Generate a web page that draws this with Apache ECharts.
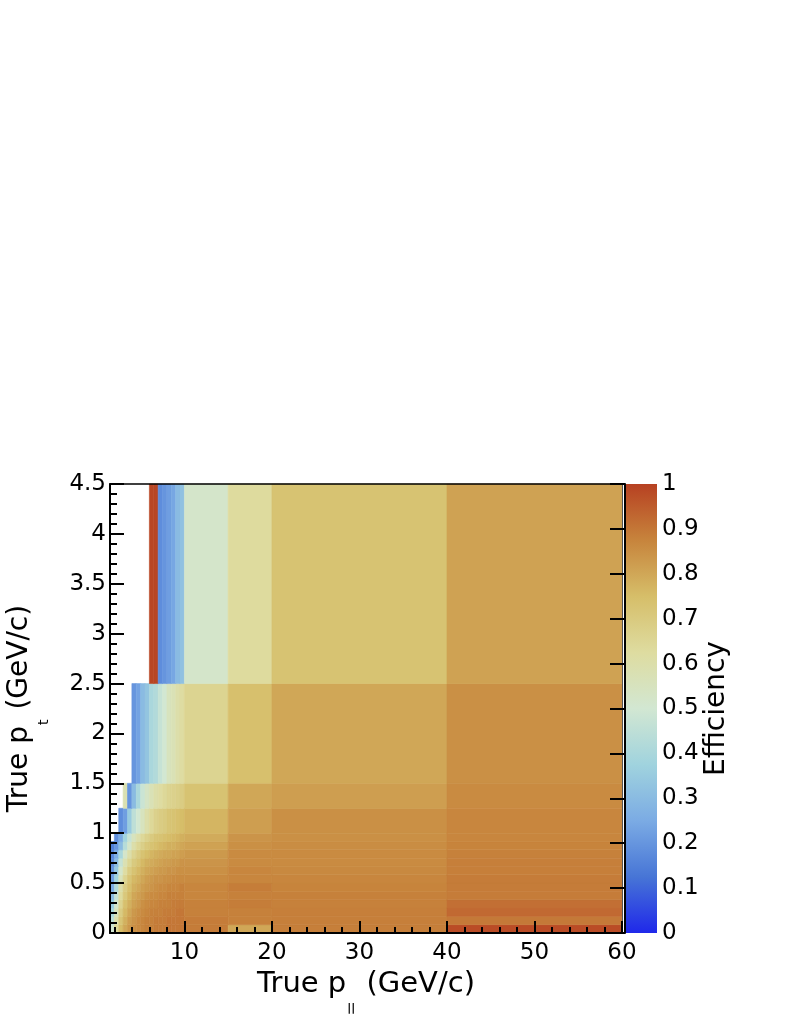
<!DOCTYPE html>
<html>
<head>
<meta charset="utf-8">
<script src="https://cdn.jsdelivr.net/npm/echarts@6/dist/echarts.min.js"></script>
<style>
html,body{margin:0;padding:0;background:#fff;}
#chart{width:789px;height:1021px;}
</style>
</head>
<body>
<div id="chart"></div>
<script>
// ---- Bin edges (True p_|| along x, True p_t along y) ----
const xEdges = [1.5, 2, 2.5, 3, 3.5, 4, 4.5, 5, 5.5, 6, 6.5, 7, 7.5, 8, 8.5, 9, 9.5, 10, 15, 20, 40, 60];
const yEdges = [0, 0.0833, 0.1667, 0.25, 0.3333, 0.4167, 0.5, 0.5833, 0.6667, 0.75, 0.8333, 0.9167, 1.0, 1.25, 1.5, 2.5, 4.5];

// ---- Efficiency per p_t row (one value per p_|| bin, null = empty bin) ----
const effPt0000 = [0.50,0.64,0.75,0.80,0.83,0.85,0.86,0.87,0.88,0.88,0.89,0.89,0.89,0.90,0.90,0.90,0.90,0.89,0.80,0.885,0.98];
const effPt0083 = [0.45,0.60,0.72,0.78,0.82,0.84,0.86,0.87,0.88,0.88,0.89,0.89,0.89,0.90,0.90,0.90,0.90,0.89,0.88,0.885,0.895];
const effPt0167 = [0.40,0.56,0.69,0.76,0.80,0.83,0.85,0.86,0.87,0.88,0.88,0.88,0.89,0.89,0.89,0.90,0.90,0.88,0.88,0.885,0.925];
const effPt0250 = [0.35,0.52,0.66,0.74,0.78,0.81,0.83,0.85,0.86,0.87,0.87,0.88,0.88,0.88,0.89,0.89,0.89,0.88,0.888,0.88,0.915];
const effPt0333 = [0.30,0.47,0.63,0.71,0.76,0.80,0.82,0.83,0.85,0.86,0.86,0.87,0.87,0.88,0.88,0.88,0.88,0.87,0.88,0.88,0.89];
const effPt0417 = [0.25,0.42,0.60,0.69,0.74,0.78,0.80,0.82,0.83,0.84,0.85,0.86,0.86,0.87,0.87,0.87,0.88,0.87,0.888,0.875,0.89];
const effPt0500 = [0.22,0.38,0.56,0.66,0.72,0.76,0.78,0.80,0.82,0.83,0.84,0.84,0.85,0.85,0.86,0.86,0.86,0.86,0.87,0.87,0.89];
const effPt0583 = [0.20,0.34,0.52,0.62,0.69,0.73,0.76,0.78,0.80,0.81,0.82,0.83,0.83,0.84,0.84,0.85,0.85,0.85,0.87,0.865,0.885];
const effPt0667 = [0.18,0.30,0.47,0.58,0.65,0.70,0.73,0.76,0.78,0.79,0.80,0.81,0.82,0.82,0.83,0.83,0.84,0.84,0.86,0.86,0.885];
const effPt0750 = [0.17,0.26,0.40,0.52,0.60,0.66,0.70,0.73,0.75,0.77,0.78,0.79,0.80,0.80,0.81,0.81,0.82,0.83,0.86,0.86,0.88];
const effPt0833 = [0.15,0.20,0.30,0.43,0.52,0.60,0.65,0.68,0.71,0.73,0.74,0.76,0.77,0.78,0.78,0.79,0.80,0.81,0.85,0.855,0.875];
const effPt0917 = [null,0.18,0.25,0.38,0.47,0.55,0.60,0.64,0.67,0.70,0.72,0.73,0.74,0.75,0.76,0.77,0.78,0.79,0.84,0.85,0.87];
const effPt1000 = [null,null,0.18,0.22,0.35,0.45,0.50,0.55,0.60,0.64,0.67,0.69,0.70,0.72,0.73,0.74,0.75,0.77,0.82,0.85,0.87];
const effPt1250 = [null,null,null,0.58,0.20,0.30,0.40,0.48,0.53,0.57,0.60,0.62,0.64,0.66,0.67,0.68,0.69,0.73,0.80,0.82,0.86];
const effPt1500 = [null,null,null,null,null,0.20,0.23,0.30,0.33,0.40,0.42,0.47,0.50,0.55,0.57,0.60,0.62,0.66,0.74,0.80,0.85];
const effPt2500 = [null,null,null,null,null,null,null,null,null,0.99,0.99,0.18,0.20,0.22,0.24,0.30,0.32,0.52,0.63,0.73,0.81];
const effRows = [effPt0000, effPt0083, effPt0167, effPt0250, effPt0333, effPt0417, effPt0500, effPt0583,
                 effPt0667, effPt0750, effPt0833, effPt0917, effPt1000, effPt1250, effPt1500, effPt2500];

// ---- Ticks ----
const xMajorTicks = [10, 20, 30, 40, 50, 60];
const xMinorTicks = [2, 4, 6, 8, 12, 14, 16, 18, 22, 24, 26, 28, 32, 34, 36, 38, 42, 44, 46, 48, 52, 54, 56, 58];

// ---- Palette (ROOT kLightTemperature) ----
const paletteColors = ['#1f28ea', '#4775d6', '#7babe4', '#a0d3de', '#d2e7d2', '#dedca0', '#d6be69', '#c7843c', '#b74122'];

const cells = [];
effRows.forEach(function (row, j) {
  row.forEach(function (v, i) {
    if (v !== null) cells.push([xEdges[i], xEdges[i + 1], yEdges[j], yEdges[j + 1], v]);
  });
});

const FONT = 'DejaVu Sans, Liberation Sans, Arial, sans-serif';
const chart = echarts.init(document.getElementById('chart'), null, {renderer: 'canvas'});

const option = {
  animation: false,
  backgroundColor: '#ffffff',
  textStyle: {fontFamily: FONT, color: '#000'},
  grid: [
    {left: 110, top: 484, width: 512, height: 449, outerBoundsMode: 'none', containLabel: false},
    {left: 625, top: 484, width: 32, height: 449, outerBoundsMode: 'none', containLabel: false}
  ],
  visualMap: {
    show: false, type: 'continuous', min: 0, max: 1, dimension: 4, seriesIndex: 0,
    inRange: {color: paletteColors}
  },
  xAxis: [
    {
      gridIndex: 0, type: 'value', min: 1.5, max: 60, z: 10,
      axisLine: {show: true, lineStyle: {color: '#000', width: 2}},
      axisTick: {show: true, inside: true, length: 12, lineStyle: {color: '#000', width: 2}, customValues: xMajorTicks},
      axisLabel: {show: true, customValues: xMajorTicks, fontSize: 23, color: '#000', margin: 9, fontFamily: FONT},
      splitLine: {show: false},
      name: '{a|True p}{s|||}{a| (GeV/c)}',
      nameLocation: 'middle', nameGap: 37,
      nameTextStyle: {
        fontFamily: FONT, color: '#000',
        rich: {
          a: {fontSize: 29, lineHeight: 30, verticalAlign: 'top', fontFamily: FONT, color: '#000'},
          s: {fontSize: 11, lineHeight: 11, verticalAlign: 'top', fontWeight: 'bold', padding: [33, 2, 0, 1], fontFamily: FONT, color: '#000'}
        }
      }
    },
    {
      gridIndex: 0, type: 'value', min: 1.5, max: 60, z: 10, position: 'bottom',
      axisLine: {show: false},
      axisTick: {show: true, inside: true, length: 6, lineStyle: {color: '#000', width: 2}, customValues: xMinorTicks},
      axisLabel: {show: false},
      splitLine: {show: false}
    },
    {
      gridIndex: 0, type: 'value', min: 1.5, max: 60, z: 10, position: 'top',
      axisLine: {show: true, lineStyle: {color: '#000', width: 1.5}},
      axisTick: {show: false}, axisLabel: {show: false}, splitLine: {show: false}
    },
    {
      gridIndex: 1, type: 'value', min: 0, max: 1, show: false
    }
  ],
  yAxis: [
    {
      gridIndex: 0, type: 'value', min: 0, max: 4.5, interval: 0.5, z: 10,
      axisLine: {show: true, lineStyle: {color: '#000', width: 2}},
      axisTick: {show: true, inside: true, length: 14, lineStyle: {color: '#000', width: 2}},
      minorTick: {show: true, splitNumber: 5, length: 7, lineStyle: {color: '#000', width: 2}},
      axisLabel: {fontSize: 23, color: '#000', margin: 4, fontFamily: FONT},
      splitLine: {show: false},
      name: '{a|True p}{s|t}{a| (GeV/c)}',
      nameLocation: 'middle', nameGap: 74,
      nameTextStyle: {
        fontFamily: FONT, color: '#000',
        rich: {
          a: {fontSize: 28, lineHeight: 30, verticalAlign: 'top', fontFamily: FONT, color: '#000'},
          s: {fontSize: 14, lineHeight: 14, verticalAlign: 'top', padding: [31, 1, 0, 1], fontFamily: FONT, color: '#000'}
        }
      }
    },
    {
      gridIndex: 0, type: 'value', min: 0, max: 4.5, z: 10, position: 'right',
      axisLine: {show: true, lineStyle: {color: '#555', width: 1}},
      axisTick: {show: false}, axisLabel: {show: false}, splitLine: {show: false}
    },
    {
      gridIndex: 1, type: 'value', min: 0, max: 1, interval: 0.1, position: 'right', z: 10,
      axisLine: {show: true, lineStyle: {color: '#000', width: 2}},
      axisTick: {show: true, inside: true, length: 15, lineStyle: {color: '#000', width: 2}},
      axisLabel: {fontSize: 23, color: '#000', margin: 5, fontFamily: FONT},
      splitLine: {show: false},
      name: 'Efficiency', nameLocation: 'middle', nameGap: 34, nameRotate: 90,
      nameTextStyle: {fontSize: 28, color: '#000', fontFamily: FONT}
    }
  ],
  series: [
    {
      type: 'custom', xAxisIndex: 0, yAxisIndex: 0, z: 2,
      encode: {x: [0, 1], y: [2, 3]},
      data: cells,
      renderItem: function (params, api) {
        const p0 = api.coord([api.value(0), api.value(3)]);
        const p1 = api.coord([api.value(1), api.value(2)]);
        const c = api.visual('color');
        return {
          type: 'rect',
          shape: {x: p0[0], y: p0[1], width: p1[0] - p0[0], height: p1[1] - p0[1]},
          style: {fill: c, stroke: c, lineWidth: 0.6}
        };
      }
    },
    {
      type: 'custom', xAxisIndex: 3, yAxisIndex: 2, z: 2,
      data: [[0, 1, 0, 1]],
      renderItem: function (params, api) {
        const p0 = api.coord([api.value(0), api.value(3)]);
        const p1 = api.coord([api.value(1), api.value(2)]);
        const stops = paletteColors.map(function (col, k) {
          return {offset: k / (paletteColors.length - 1), color: col};
        });
        return {
          type: 'rect',
          shape: {x: p0[0], y: p0[1], width: p1[0] - p0[0], height: p1[1] - p0[1]},
          style: {fill: {type: 'linear', x: 0, y: 1, x2: 0, y2: 0, colorStops: stops}}
        };
      }
    }
  ]
};
chart.setOption(option);
</script>
</body>
</html>
